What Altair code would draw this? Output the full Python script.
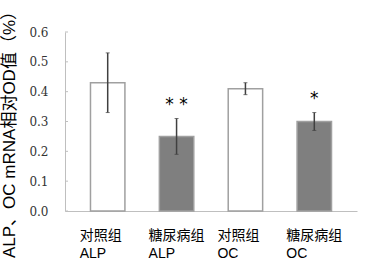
import altair as alt
import pandas as pd

groups = ["对照组 ALP", "糖尿病组 ALP", "对照组 OC", "糖尿病组 OC"]
means = [0.43, 0.25, 0.41, 0.30]
lows = [0.33, 0.19, 0.39, 0.27]
highs = [0.53, 0.31, 0.43, 0.33]
fills = ["white", "#7f7f7f", "white", "#7f7f7f"]
sig = ["", "* *", "", "*"]
y_ticks = [0.0, 0.1, 0.2, 0.3, 0.4, 0.5, 0.6]

df = pd.DataFrame({"group": groups, "mean": means, "low": lows, "high": highs, "sig": sig})
tick_df = pd.DataFrame({"v": y_ticks})

sans = "Liberation Sans, Noto Sans CJK SC"

x_enc = alt.X(
    "group:N", sort=groups,
    scale=alt.Scale(paddingInner=0.5, paddingOuter=0.37),
    axis=alt.Axis(title=None, labelExpr="split(datum.label, ' ')", labelAngle=0,
                  labelAlign="left", labelOffset=-28, labelBaseline="top", labelPadding=17,
                  labelLineHeight=18, labelFont=sans, labelFontSize=14, labelColor="black",
                  ticks=False, domainColor="#bfbfbf", domainWidth=1),
)
y_scale = alt.Scale(domain=[0, 0.6], nice=False, zero=True)
y_axis = alt.Axis(title="ALP、OC mRNA相对OD值（%）", values=y_ticks, format=".1f", ticks=False,
                  grid=False, labelPadding=17, labelFont="DejaVu Serif", labelFontSize=12,
                  labelColor="#333333", domainColor="#bfbfbf", titleFont=sans,
                  titleFontSize=17, titleFontWeight="normal", titleColor="black",
                  titleAngle=270, titleAlign="center", titleBaseline="middle",
                  titleX=-56, titleY=98)


def yq(field):
    return alt.Y(field, type="quantitative", scale=y_scale, axis=y_axis)


bars = alt.Chart(df).mark_bar(stroke="#a0a0a0", strokeWidth=1.5).encode(
    x=x_enc,
    y=yq("mean"),
    fill=alt.Fill("group:N", scale=alt.Scale(domain=groups, range=fills), legend=None),
)

err = alt.Chart(df).mark_rule(color="#404040", strokeWidth=1.5).encode(
    x=x_enc, y=yq("low"), y2="high:Q")
cap_hi = alt.Chart(df).mark_tick(color="#404040", size=4, thickness=1).encode(
    x=x_enc, y=yq("high"))
cap_lo = alt.Chart(df).mark_tick(color="#404040", size=4, thickness=1).encode(
    x=x_enc, y=yq("low"))

stars = alt.Chart(df).mark_text(baseline="alphabetic", dy=-9, font="DejaVu Sans",
                                fontSize=17, color="black").encode(
    x=x_enc, y=yq("high"), text="sig:N")

yticks = alt.Chart(tick_df).mark_rule(color="#bfbfbf", strokeWidth=1).encode(
    x=alt.value(0), x2=alt.value(3), y=yq("v"))

chart = alt.layer(bars, err, cap_hi, cap_lo, stars, yticks).properties(
    width=292, height=179,
    padding={"left": 65, "top": 32, "right": 11, "bottom": 58},
    autosize="none",
).configure_view(stroke=None)

chart.save("out.html", embed_options={"renderer": "svg", "actions": False})
